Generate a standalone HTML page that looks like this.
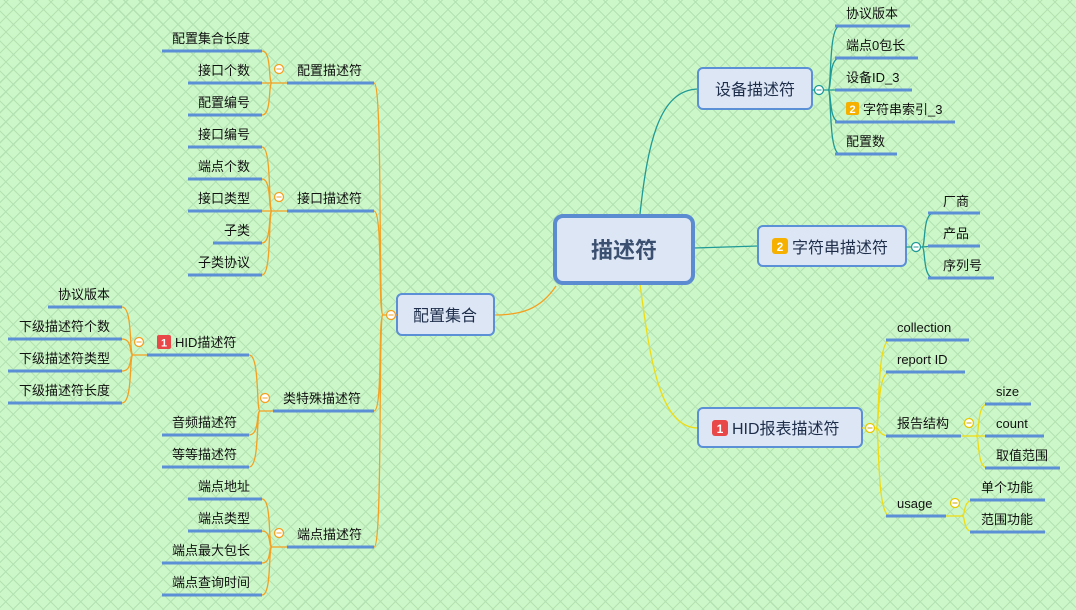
<!DOCTYPE html>
<html><head><meta charset="utf-8"><style>
html,body{margin:0;padding:0;width:1076px;height:610px;overflow:hidden}
body{background-color:#ccf7c8;background-image:repeating-linear-gradient(45deg,transparent 0,transparent 9.5px,#b4e2b2 9.5px,#b4e2b2 10.6px),repeating-linear-gradient(-45deg,transparent 0,transparent 9.5px,#b4e2b2 9.5px,#b4e2b2 10.6px)}
svg{position:absolute;left:0;top:0}
text{font-family:"Liberation Sans","Noto Sans CJK SC",sans-serif;font-size:13px;fill:#111}
.u{stroke:#5b8fd6;stroke-width:3;fill:none}
.o{stroke:#f5a020;stroke-width:1.3;fill:none}
.t{stroke:#1f9a96;stroke-width:1.3;fill:none}
.y{stroke:#f0dc10;stroke-width:1.3;fill:none}
.c{fill:#fff;stroke-width:1.3}
.m{font-size:16px;fill:#1e2e4a}
</style></head><body>
<svg width="1076" height="610" viewBox="0 0 1076 610">
<!-- main connectors -->
<path class="t" d="M640 214 C648 140,660 90,698 89"/>
<path class="t" d="M694 248 L758 246"/>
<path class="y" d="M640 284 C650 360,660 428,698 428"/>
<path class="o" d="M556 286 C540 310,520 315,494 315"/>

<!-- right nodes -->
<rect x="698" y="68" width="114" height="41" rx="5" fill="#dde6f5" stroke="#5b8fd6" stroke-width="2"/>
<text class="m" x="755" y="95" text-anchor="middle">设备描述符</text>
<rect x="758" y="226" width="148" height="40" rx="5" fill="#dde6f5" stroke="#5b8fd6" stroke-width="2"/>
<rect x="772" y="238" width="16" height="16" rx="3" fill="#f5b000"/><text x="780" y="251" text-anchor="middle" style="fill:#fff;font-weight:bold;font-size:12px">2</text>
<text class="m" x="792" y="253">字符串描述符</text>
<rect x="698" y="408" width="164" height="39" rx="5" fill="#dde6f5" stroke="#5b8fd6" stroke-width="2"/>
<rect x="712" y="420" width="16" height="16" rx="3" fill="#e84848"/><text x="720" y="433" text-anchor="middle" style="fill:#fff;font-weight:bold;font-size:12px">1</text>
<text class="m" x="732" y="434">HID报表描述符</text>

<!-- 设备描述符 children -->
<path class="t" d="M812 90 L828 90 M828 90 C832 90,828 26,840 26 M828 90 C832 90,828 58,840 58 M828 90 L840 90 M828 90 C832 90,828 122,840 122 M828 90 C832 90,828 154,840 154"/>
<path class="u" d="M835 26H910 M835 58H918 M835 90H912 M835 122H955 M835 154H897"/>
<circle class="c" cx="819" cy="90" r="4.5" stroke="#1f9a96"/><path d="M816.5 90h5" stroke="#1f9a96"/>
<text x="846" y="18">协议版本</text><text x="846" y="50">端点0包长</text><text x="846" y="82">设备ID_3</text>
<rect x="846" y="102" width="13" height="13" rx="2" fill="#f5b000"/><text x="852.5" y="113" text-anchor="middle" style="fill:#fff;font-weight:bold;font-size:11px">2</text>
<text x="863" y="114">字符串索引_3</text><text x="846" y="146">配置数</text>

<!-- 字符串描述符 children -->
<path class="t" d="M906 247 L922 247 M922 247 C926 247,922 213,934 213 M922 247 L934 246 M922 247 C926 247,922 278,934 278"/>
<path class="u" d="M928 213H980 M928 246H980 M928 278H994"/>
<circle class="c" cx="916" cy="247" r="4.5" stroke="#1f9a96"/><path d="M913.5 247h5" stroke="#1f9a96"/>
<text x="943" y="206">厂商</text><text x="943" y="238">产品</text><text x="943" y="270">序列号</text>

<!-- HID报表描述符 children -->
<path class="y" d="M862 428 L876 428 M876 428 C880 428,876 340,890 340 M876 428 C880 428,876 372,890 372 M876 428 C880 428,878 436,890 436 M876 428 C880 428,876 516,890 516"/>
<path class="y" d="M961 436 L976 436 M976 436 C980 436,976 404,988 404 M976 436 L988 436 M976 436 C980 436,976 468,988 468"/>
<path class="y" d="M946 516 L962 516 M962 516 C966 516,962 500,974 500 M962 516 C966 516,962 532,974 532"/>
<path class="u" d="M886 340H969 M886 372H965 M886 436H961 M886 516H946 M985 404H1031 M985 436H1044 M985 468H1060 M970 500H1045 M970 532H1045"/>
<circle class="c" cx="870" cy="428" r="4.5" stroke="#e8c800"/><path d="M867.5 428h5" stroke="#c8a800"/>
<circle class="c" cx="969" cy="423" r="4.5" stroke="#e8c800"/><path d="M966.5 423h5" stroke="#c8a800"/>
<circle class="c" cx="955" cy="503" r="4.5" stroke="#e8c800"/><path d="M952.5 503h5" stroke="#c8a800"/>
<text x="897" y="332">collection</text><text x="897" y="364">report ID</text><text x="897" y="428">报告结构</text><text x="897" y="508">usage</text>
<text x="996" y="396">size</text><text x="996" y="428">count</text><text x="996" y="460">取值范围</text>
<text x="981" y="492">单个功能</text><text x="981" y="524">范围功能</text>

<!-- center -->
<rect x="555" y="216" width="138" height="67" rx="8" fill="#dde6f5" stroke="#5b8bd0" stroke-width="4"/>
<text x="624" y="258" text-anchor="middle" style="font-size:22px;font-weight:bold;fill:#3b5070">描述符</text>

<!-- 配置集合 -->
<rect x="397" y="294" width="97" height="41" rx="5" fill="#dde6f5" stroke="#5b8fd6" stroke-width="2"/>
<text class="m" x="445" y="321" text-anchor="middle">配置集合</text>
<path class="o" d="M397 315 L383 315 M383 315 C378 315,383 83,374 83 M383 315 C378 315,383 211,374 211 M383 315 C378 315,383 411,374 411 M383 315 C378 315,383 547,374 547"/>
<circle class="c" cx="391" cy="315" r="4.5" stroke="#f5a020"/><path d="M388.5 315h5" stroke="#f5a020"/>

<!-- level 2 -->
<path class="u" d="M287 83H374 M287 211H374 M273 411H374 M287 547H374"/>
<text x="297" y="75">配置描述符</text><text x="297" y="203">接口描述符</text><text x="283" y="403">类特殊描述符</text><text x="297" y="539">端点描述符</text>

<!-- 配置描述符 children -->
<path class="o" d="M287 83 L272 83 M272 83 C268 83,272 51,262 51 M272 83 L262 83 M272 83 C268 83,272 115,262 115"/>
<path class="u" d="M162 51H262 M188 83H262 M188 115H262"/>
<circle class="c" cx="279" cy="69" r="4.5" stroke="#f5a020"/><path d="M276.5 69h5" stroke="#f5a020"/>
<text x="250" y="43" text-anchor="end">配置集合长度</text><text x="250" y="75" text-anchor="end">接口个数</text><text x="250" y="107" text-anchor="end">配置编号</text>

<!-- 接口描述符 children -->
<path class="o" d="M287 211 L272 211 M272 211 C268 211,272 147,262 147 M272 211 C268 211,272 179,262 179 M272 211 L262 211 M272 211 C268 211,272 243,262 243 M272 211 C268 211,272 275,262 275"/>
<path class="u" d="M188 147H262 M188 179H262 M188 211H262 M213 243H262 M188 275H262"/>
<circle class="c" cx="279" cy="197" r="4.5" stroke="#f5a020"/><path d="M276.5 197h5" stroke="#f5a020"/>
<text x="250" y="139" text-anchor="end">接口编号</text><text x="250" y="171" text-anchor="end">端点个数</text><text x="250" y="203" text-anchor="end">接口类型</text><text x="250" y="235" text-anchor="end">子类</text><text x="250" y="267" text-anchor="end">子类协议</text>

<!-- 类特殊描述符 children -->
<path class="o" d="M273 411 L260 411 M260 411 C256 411,260 355,249 355 M260 411 C256 411,260 435,249 435 M260 411 C256 411,260 467,249 467"/>
<path class="u" d="M147 355H249 M162 435H249 M162 467H249"/>
<circle class="c" cx="265" cy="398" r="4.5" stroke="#f5a020"/><path d="M262.5 398h5" stroke="#f5a020"/>
<rect x="157" y="335" width="14" height="14" rx="2" fill="#e84848"/><text x="164" y="346.5" text-anchor="middle" style="fill:#fff;font-weight:bold;font-size:11px">1</text>
<text x="175" y="347">HID描述符</text>
<text x="237" y="427" text-anchor="end">音频描述符</text><text x="237" y="459" text-anchor="end">等等描述符</text>

<!-- HID描述符 children -->
<path class="o" d="M147 355 L133 355 M133 355 C129 355,133 307,122 307 M133 355 C129 355,133 339,122 339 M133 355 C129 355,133 371,122 371 M133 355 C129 355,133 403,122 403"/>
<path class="u" d="M48 307H122 M8 339H122 M8 371H122 M8 403H122"/>
<circle class="c" cx="139" cy="342" r="4.5" stroke="#f5a020"/><path d="M136.5 342h5" stroke="#f5a020"/>
<text x="110" y="299" text-anchor="end">协议版本</text><text x="110" y="331" text-anchor="end">下级描述符个数</text><text x="110" y="363" text-anchor="end">下级描述符类型</text><text x="110" y="395" text-anchor="end">下级描述符长度</text>

<!-- 端点描述符 children -->
<path class="o" d="M287 547 L272 547 M272 547 C268 547,272 499,262 499 M272 547 C268 547,272 531,262 531 M272 547 C268 547,272 563,262 563 M272 547 C268 547,272 595,262 595"/>
<path class="u" d="M188 499H262 M188 531H262 M162 563H262 M162 595H262"/>
<circle class="c" cx="279" cy="533" r="4.5" stroke="#f5a020"/><path d="M276.5 533h5" stroke="#f5a020"/>
<text x="250" y="491" text-anchor="end">端点地址</text><text x="250" y="523" text-anchor="end">端点类型</text><text x="250" y="555" text-anchor="end">端点最大包长</text><text x="250" y="587" text-anchor="end">端点查询时间</text>
</svg>
</body></html>
